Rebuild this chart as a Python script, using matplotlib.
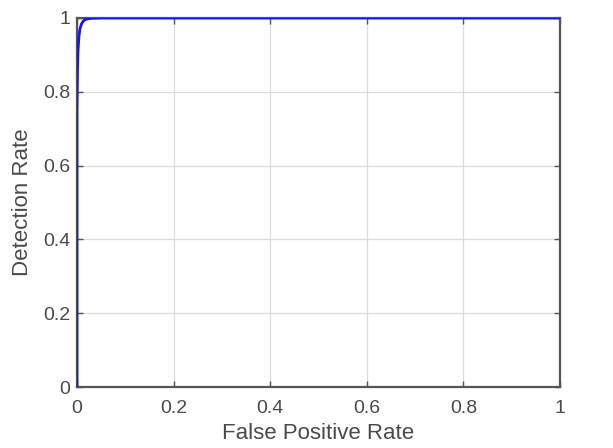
import numpy as np
import matplotlib
matplotlib.use('Agg')
import matplotlib.pyplot as plt

# ROC curve points
fpr = [0, 0.0, 0.001, 0.002, 0.004, 0.006, 0.009, 0.012, 0.016, 0.022, 0.03, 0.05, 0.2, 1.0]
tpr = [0, 0.75, 0.86, 0.91, 0.95, 0.97, 0.983, 0.99, 0.995, 0.998, 0.999, 1.0, 1.0, 1.0]
ticks = [0, 0.2, 0.4, 0.6, 0.8, 1]
tick_labels = ['0', '0.2', '0.4', '0.6', '0.8', '1']

plt.rcParams['font.family'] = ['Liberation Sans', 'DejaVu Sans']

fig = plt.figure(figsize=(6.13, 4.48), dpi=100)
# axes box: x 77..560 px, y 18..387 px
ax = fig.add_axes([77 / 613, (448 - 387) / 448, 483 / 613, 369 / 448])

ax.plot(fpr, tpr, color='#1414ff', linewidth=2.0, zorder=3)

ax.set_xlim(0, 1)
ax.set_ylim(0, 1)
ax.set_xticks(ticks)
ax.set_xticklabels(tick_labels)
ax.set_yticks(ticks)
ax.set_yticklabels(tick_labels)
ax.grid(True, color='#dcdcdc', linewidth=0.9)
ax.set_axisbelow(True)

for s in ax.spines.values():
    s.set_color('#555555')
    s.set_linewidth(1.6)

ax.tick_params(direction='in', length=4, width=1, colors='#555555',
               labelsize=14, labelcolor='#4a4a4a', top=True, right=True)
ax.tick_params(axis='x', pad=9)
ax.tick_params(axis='y', pad=5)
ax.set_xlabel('False Positive Rate', fontsize=16, color='#4a4a4a', labelpad=5)
ax.set_ylabel('Detection Rate', fontsize=16, color='#4a4a4a', labelpad=7)

fig.savefig('out.png', dpi=100)
